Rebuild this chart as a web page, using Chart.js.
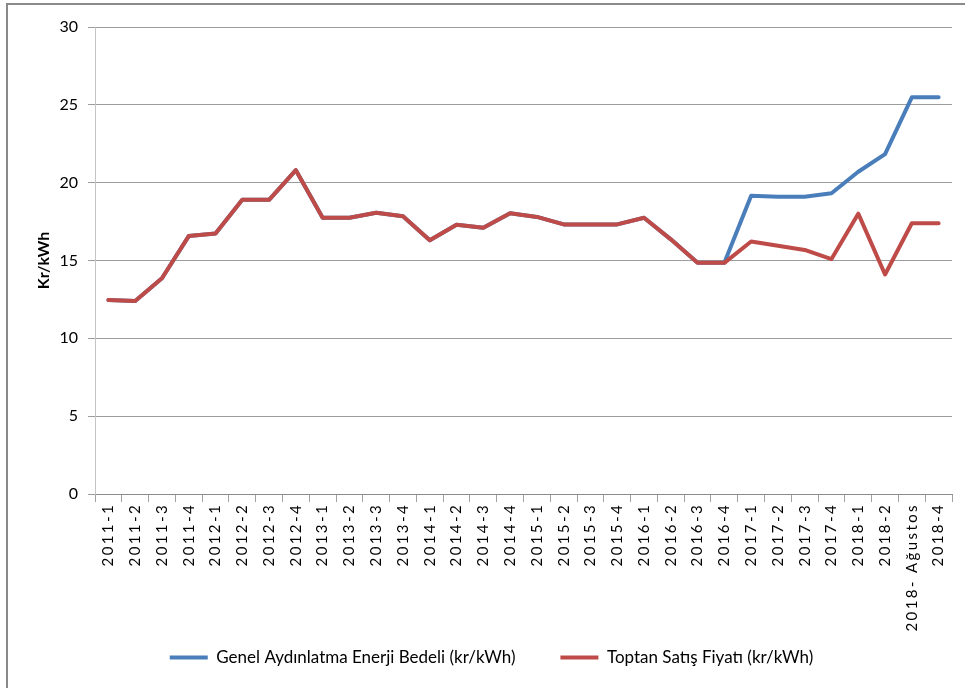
<!DOCTYPE html>
<html>
<head>
<meta charset="utf-8">
<script src="https://cdn.jsdelivr.net/npm/chart.js@4.4.1/dist/chart.umd.min.js"></script>
<style>
    html, body { margin: 0; padding: 0; background: #fff; }
    #wrap { position: relative; width: 965px; height: 688px; overflow: hidden; }
    #frame { position: absolute; left: 6px; top: 3px; width: 990px; height: 720px; border: 2px solid #8a8a8a; box-sizing: border-box; }
    #myChart { position: absolute; left: 0; top: 0; }
</style>
</head>
<body>
<div id="wrap">
    <div id="frame"></div>
    <canvas id="myChart" width="965" height="688"></canvas>
</div>
<script>
const labels = [
    '2011-1', '2011-2', '2011-3', '2011-4',
    '2012-1', '2012-2', '2012-3', '2012-4',
    '2013-1', '2013-2', '2013-3', '2013-4',
    '2014-1', '2014-2', '2014-3', '2014-4',
    '2015-1', '2015-2', '2015-3', '2015-4',
    '2016-1', '2016-2', '2016-3', '2016-4',
    '2017-1', '2017-2', '2017-3', '2017-4',
    '2018-1', '2018-2', '2018- Ağustos', '2018-4'
];

const aydinlatma = [
    12.46, 12.40, 13.86, 16.57,
    16.73, 18.90, 18.90, 20.80,
    17.75, 17.75, 18.07, 17.84,
    16.30, 17.30, 17.10, 18.03,
    17.80, 17.32, 17.32, 17.32,
    17.75, 16.36, 14.85, 14.85,
    19.16, 19.10, 19.10, 19.32,
    20.70, 21.83, 25.48, 25.48
];

const toptan = [
    12.46, 12.40, 13.86, 16.57,
    16.73, 18.90, 18.90, 20.80,
    17.75, 17.75, 18.07, 17.84,
    16.30, 17.30, 17.10, 18.03,
    17.80, 17.32, 17.32, 17.32,
    17.75, 16.36, 14.85, 14.85,
    16.22, 15.95, 15.68, 15.09,
    18.01, 14.10, 17.39, 17.39
];

const yTicks = { min: 0, max: 30, step: 5 };

const FONT = 'Lato, "Open Sans", sans-serif';

const data = {
    labels: labels,
    datasets: [{
        label: 'Genel Aydınlatma Enerji Bedeli (kr/kWh)',
        data: aydinlatma,
        borderColor: '#4a7ebb',
        backgroundColor: '#4a7ebb',
        borderWidth: 4,
        pointRadius: 0,
        borderJoinStyle: 'round',
        borderCapStyle: 'round',
        order: 1
    }, {
        label: 'Toptan Satış Fiyatı (kr/kWh)',
        data: toptan,
        borderColor: '#be4b48',
        backgroundColor: '#be4b48',
        borderWidth: 4,
        pointRadius: 0,
        borderJoinStyle: 'round',
        borderCapStyle: 'round',
        order: 0
    }]
};

// spaced-out category labels, allowed to run below the axis box
function spaceLabels(scale) {
    if (scale._spaced) return;
    const draw = scale.drawLabels;
    scale._computeLabelArea = () => undefined;
    scale.drawLabels = function (area) {
        const ctx = this.ctx;
        ctx.save();
        ctx.letterSpacing = '2.4px';
        draw.call(this, area);
        ctx.restore();
    };
    scale._spaced = true;
}

const config = {
    type: 'line',
    data,
    options: {
        responsive: false,
        animation: false,
        layout: {
            padding: { left: 31, right: 13, top: 27, bottom: 12 }
        },
        plugins: {
            tooltip: { enabled: false },
            legend: {
                position: 'bottom',
                labels: {
                    usePointStyle: true,
                    pointStyle: 'line',
                    pointStyleWidth: 38,
                    padding: 45,
                    color: '#000',
                    font: { family: FONT, size: 17 },
                    sort: (a, b) => a.datasetIndex - b.datasetIndex
                }
            }
        },
        scales: {
            x: {
                offset: true,
                grid: {
                    drawOnChartArea: false,
                    offset: true,
                    tickLength: 8,
                    color: '#a0a0a0'
                },
                border: { color: '#8c8c8c' },
                ticks: {
                    autoSkip: false,
                    minRotation: 90,
                    maxRotation: 90,
                    padding: 1,
                    color: '#000',
                    font: { family: FONT, size: 15 }
                },
                afterUpdate: spaceLabels,
                afterFit: (s) => { s.height = 110; }
            },
            y: {
                min: yTicks.min,
                max: yTicks.max,
                ticks: {
                    stepSize: yTicks.step,
                    padding: 10,
                    color: '#000',
                    font: { family: FONT, size: 16 }
                },
                grid: {
                    color: '#9c9c9c',
                    tickLength: 7
                },
                border: { color: '#c4c4c4' },
                title: {
                    display: true,
                    text: 'Kr/kWh',
                    color: '#000',
                    font: { family: FONT, size: 16, weight: 'bold' },
                    padding: { top: 3, bottom: 4 }
                },
                afterFit: (s) => { s.width = 64; }
            }
        }
    }
};

var myChart = new Chart(
    document.getElementById('myChart'),
    config
);
</script>
</body>
</html>
